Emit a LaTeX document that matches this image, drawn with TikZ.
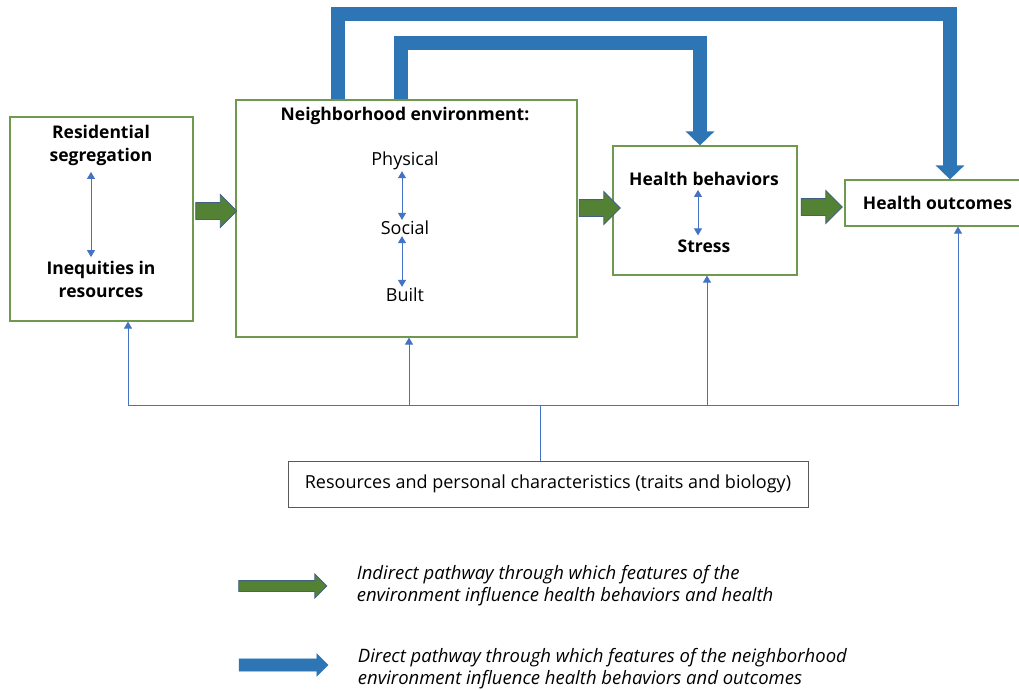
\documentclass[tikz,border=0pt]{standalone}
\usepackage{fontspec}
\setmainfont{Open Sans}
\usetikzlibrary{shapes.arrows, arrows.meta, positioning}

\definecolor{boxgreen}{RGB}{112,153,80}
\definecolor{arrowgreen}{RGB}{84,130,53}
\definecolor{arrowedge}{RGB}{65,96,130}
\definecolor{pathblue}{RGB}{46,117,182}
\definecolor{linkblue}{RGB}{68,114,196}
\definecolor{boxgray}{RGB}{89,89,89}

\begin{document}
\begin{tikzpicture}[
    x=1pt, y=-1pt,
    font=\fontsize{18}{23}\selectfont,
    box/.style={rectangle, draw=boxgreen, line width=1.2pt, fill=white},
    label/.style={align=center, inner sep=1pt},
    title/.style={label, font=\fontsize{17.5}{23}\selectfont\bfseries},
    legendtext/.style={align=left, font=\fontsize{18.5}{22}\selectfont\itshape},
    fatgreen/.style={single arrow, fill=arrowgreen, draw=arrowedge, line width=0.8pt, inner sep=0pt, text height=8pt, text depth=8pt, single arrow head extend=8pt, minimum height=41pt},
    fatblue/.style={single arrow, fill=pathblue, draw=pathblue, inner sep=0pt, text height=6pt, text depth=6pt, single arrow head extend=5pt, minimum height=89pt},
    direct/.style={draw=pathblue, line width=14pt, -{Triangle[length=14pt,width=28pt]}},
    link/.style={draw=linkblue, line width=0.9pt, -{Triangle[length=7pt,width=8pt]}},
    twoway/.style={link, {Triangle[length=7pt,width=8pt]}-{Triangle[length=7pt,width=8pt]}},
    feed/.style={draw=linkblue, line width=0.9pt}
]
    \useasboundingbox (0,0) rectangle (1019,690);

    % Boxes
    \node [box, minimum width=183pt, minimum height=204pt] (seg) at (101.5,219) {};
    \node [box, minimum width=341pt, minimum height=237pt] (env) at (406.5,218.5) {};
    \node [box, minimum width=184pt, minimum height=129pt] (beh) at (705,210.5) {};
    \node [box, minimum width=185pt, minimum height=46pt, font=\fontsize{17.5}{23}\selectfont\bfseries] (out) at (937.5,203) {Health outcomes};
    \node [rectangle, draw=boxgray, line width=1pt, minimum width=520pt, minimum height=46pt] (res) at (548,484) {Resources and personal characteristics (traits and biology)};

    % Labels
    \node [title] (resseg) at (101,145.5) {Residential\\segregation};
    \node [title] (ineq) at (101,279.5) {Inequities in\\resources};
    \node [title] (envtitle) at (405,116) {Neighborhood environment:};
    \node [label] (phys) at (405,161) {Physical};
    \node [label, below of=phys, node distance=67pt] (soc) {Social};
    \node [label, below of=soc, node distance=67pt] (built) {Built};
    \node [title] (hb) at (704,179) {Health behaviors};
    \node [title, below of=hb, node distance=67pt] (stress) {Stress};

    % Indirect arrows
    \node [fatgreen] (seg2env) at (212,211) {};
    \node [fatgreen] (env2beh) at (595.5,208) {};
    \node [fatgreen] (beh2out) at (817.5,207) {};

    % Direct pathways
    \path [direct] ([xshift=-68.5pt]env.north) -- ++(0,-85) -| ([xshift=12.5pt]out.north);
    \path [direct] ([xshift=-5.5pt]env.north) -- ++(0,-56) -| ([xshift=-5pt]beh.north);

    % Two-way links
    \path [twoway, shorten <=5pt, shorten >=3pt] ([xshift=-10pt]resseg.south) -- ([xshift=-10pt]ineq.north);
    \path [twoway] ([xshift=-3pt]phys.south) -- ([xshift=-3pt]soc.north);
    \path [twoway] ([xshift=-3pt]soc.south) -- ([xshift=-3pt]built.north);
    \path [twoway, shorten <=3pt, shorten >=3pt] ([xshift=-6pt]hb.south) -- ([xshift=-6pt]stress.north);

    % Resources feed back
    \path [feed] ([xshift=-8pt]res.north) -- ++(0,-55) coordinate (hub);
    \path [link] (hub) -| ([xshift=26.5pt]seg.south);
    \path [link] (hub) -| ([xshift=2.5pt]env.south);
    \path [link] (hub) -| ([xshift=2pt]beh.south);
    \path [link] (hub) -| ([xshift=20.5pt]out.south);

    % Legend
    \node [fatgreen, text height=5pt, text depth=5pt, single arrow head extend=6.5pt, minimum height=88pt] (legind) at (280,586) {};
    \node [fatblue] (legdir) at (280.5,665) {};
    \node [legendtext, right=26pt of legind] (indtext) {Indirect pathway through which features of the\\environment influence health behaviors and health};
    \node [legendtext, right=26pt of legdir, yshift=-3.5pt] (dirtext) {Direct pathway through which features of the neighborhood\\environment influence health behaviors and outcomes};
\end{tikzpicture}
\end{document}
